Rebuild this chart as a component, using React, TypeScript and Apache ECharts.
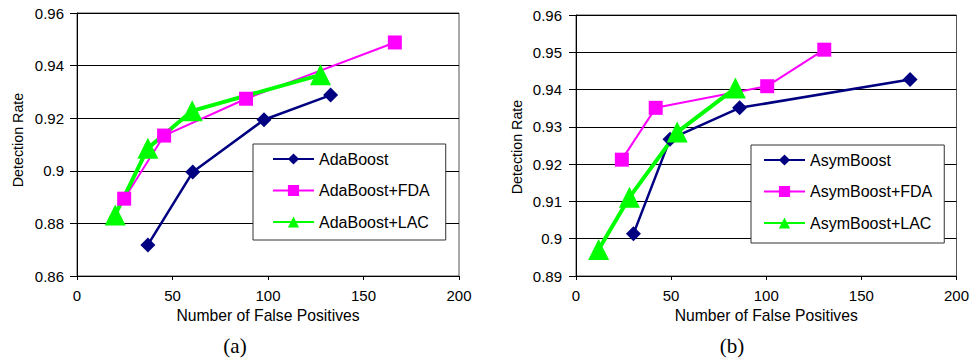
import React, { useEffect, useRef } from "react";
import * as echarts from "echarts";

const xTicksMax = 200;
const adaNames = ["AdaBoost", "AdaBoost+FDA", "AdaBoost+LAC"];
const asymNames = ["AsymBoost", "AsymBoost+FDA", "AsymBoost+LAC"];

const adaX = [37.1, 60.6, 97.9, 132.8];
const adaY = [0.8718, 0.8995, 0.9194, 0.9288];
const adaFdaX = [24.7, 45.6, 88.5, 166.4];
const adaFdaY = [0.8894, 0.9134, 0.9274, 0.9488];
const adaLacX = [20, 37.1, 60.3, 127.5];
const adaLacY = [0.8832, 0.9086, 0.9228, 0.9365];

const asymX = [30.2, 49.4, 86.0, 175.6];
const asymY = [0.9013, 0.9267, 0.9351, 0.9427];
const asymFdaX = [24.1, 41.9, 100.5, 130.5];
const asymFdaY = [0.9212, 0.9351, 0.9409, 0.9507];
const asymLacX = [11.9, 28.1, 53.2, 83.8];
const asymLacY = [0.8971, 0.9111, 0.9286, 0.9404];

const zip = (xs: number[], ys: number[]) => xs.map((x, i) => [x, ys[i]]);

const FONT = "Liberation Sans";

export default function App() {
  const ref = useRef<HTMLDivElement>(null);
  useEffect(() => {
    if (!ref.current) return;
    const chart = echarts.init(ref.current, undefined, { renderer: "svg" });

    const xAxisBase = (gridIndex: number) => ({
      type: "value" as const,
      gridIndex,
      min: 0,
      max: xTicksMax,
      interval: 50,
      name: "Number of False Positives",
      nameLocation: "middle" as const,
      nameGap: 30,
      nameTextStyle: { fontSize: 15.7, color: "#000", fontFamily: FONT },
      axisLine: { show: true, lineStyle: { color: "#000", width: 1 } },
      axisTick: { show: true, length: 4, lineStyle: { color: "#000" } },
      axisLabel: { fontSize: 15, color: "#000", margin: 12, fontFamily: FONT },
      splitLine: { show: false },
    });
    const yAxisBase = (
      gridIndex: number,
      min: number,
      interval: number,
      margin: number,
      namePad: number[]
    ) => ({
      type: "value" as const,
      gridIndex,
      min,
      max: 0.96,
      interval,
      name: "Detection Rate",
      nameLocation: "middle" as const,
      nameGap: 52,
      nameTextStyle: { fontSize: 14.3, color: "#000", fontFamily: FONT, padding: namePad },
      axisLine: { show: true, lineStyle: { color: "#000", width: 1 } },
      axisTick: { show: true, length: 7, lineStyle: { color: "#000" } },
      axisLabel: { fontSize: 15, color: "#000", margin, fontFamily: FONT },
      splitLine: { show: true, lineStyle: { color: "#000", width: 1 } },
    });

    const mk = (
      name: string,
      data: number[][],
      idx: number,
      kind: "d" | "s" | "t"
    ) => {
      const color = kind === "d" ? "#000080" : kind === "s" ? "#FF00FF" : "#00FF00";
      const symbol = kind === "d" ? "diamond" : kind === "s" ? "rect" : "triangle";
      const symbolSize = kind === "d" ? 15 : kind === "s" ? 14 : 21;
      const width = kind === "d" ? 2.5 : kind === "s" ? 2 : 4;
      return {
        type: "line" as const,
        name,
        xAxisIndex: idx,
        yAxisIndex: idx,
        data,
        symbol,
        symbolSize,
        showAllSymbol: true,
        color,
        lineStyle: { color, width },
        itemStyle: { color, borderWidth: 0 },
        emphasis: { disabled: true },
      };
    };

    const legendBase = {
      orient: "vertical" as const,
      itemWidth: 41,
      itemHeight: 14,
      itemGap: 15.5,
      borderColor: "#333",
      borderWidth: 1,
      backgroundColor: "#fff",
      textStyle: { fontSize: 16, color: "#000", fontFamily: FONT, lineHeight: 14 },
      selectedMode: false,
    };

    chart.setOption({
      animation: false,
      textStyle: { fontFamily: FONT },
      grid: [
        { left: 77, top: 13, width: 382, height: 263, show: true, borderColor: "#555", borderWidth: 1, backgroundColor: "#fff" },
        { left: 576, top: 15, width: 382, height: 261, show: true, borderColor: "#555", borderWidth: 1, backgroundColor: "#fff" },
      ],
      xAxis: [xAxisBase(0), xAxisBase(1)],
      yAxis: [
        yAxisBase(0, 0.86, 0.02, 13, [0, 0, 0, 9]),
        yAxisBase(1, 0.89, 0.01, 14, [0, 3, 0, 0]),
      ],
      legend: [
        { ...legendBase, data: adaNames, left: 253, top: 144, padding: [7, 16, 10, 19] },
        { ...legendBase, data: asymNames, left: 751, top: 145, padding: [7, 12, 12, 12] },
      ],
      series: [
        mk(adaNames[0], zip(adaX, adaY), 0, "d"),
        mk(adaNames[1], zip(adaFdaX, adaFdaY), 0, "s"),
        mk(adaNames[2], zip(adaLacX, adaLacY), 0, "t"),
        mk(asymNames[0], zip(asymX, asymY), 1, "d"),
        mk(asymNames[1], zip(asymFdaX, asymFdaY), 1, "s"),
        mk(asymNames[2], zip(asymLacX, asymLacY), 1, "t"),
      ],
      graphic: [
        {
          type: "text",
          x: 235,
          y: 346,
          style: { text: "(a)", font: "21px 'Liberation Serif'", fill: "#000", textAlign: "center", textVerticalAlign: "middle" },
        },
        {
          type: "text",
          x: 732,
          y: 346,
          style: { text: "(b)", font: "21px 'Liberation Serif'", fill: "#000", textAlign: "center", textVerticalAlign: "middle" },
        },
      ],
    });
    return () => chart.dispose();
  }, []);
  return (
    <div
      ref={ref}
      style={{ position: "absolute", left: 0, top: 0, width: 972, height: 360, background: "#fff" }}
    />
  );
}
